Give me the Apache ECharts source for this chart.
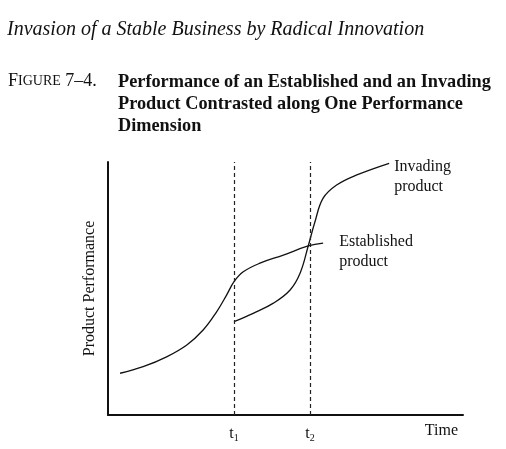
<!DOCTYPE html>
<html>
<head>
<meta charset="utf-8">
<title>Figure 7-4</title>
<script src="https://cdn.jsdelivr.net/npm/echarts@6/dist/echarts.min.js"></script>
<style>
  html, body { margin: 0; padding: 0; background: #fff; }
  #main { width: 506px; height: 449px; }
</style>
</head>
<body>
<div id="main"></div>
<script>
// 时间点 (x 轴上的 t1, t2)
var tPoints = [35.5, 56.9];
var tLabels = ["t{s|1}", "t{s|2}"];

// 原有产品曲线 [x, y]
var establishedX = [3.4, 9.9, 16.5, 22.2, 26.8, 30.6, 33.4, 35.5, 38.1, 42.8, 49.4, 56.4, 60.6];
var establishedY = [16.5, 19.1, 23.0, 27.7, 33.6, 40.8, 47.4, 52.7, 56.6, 60.0, 63.2, 66.8, 67.9];

// 入侵产品曲线 [x, y]
var invadingX = [35.5, 40.9, 46.6, 51.3, 54.1, 56.4, 58.3, 60.6, 64.4, 70.1, 79.2];
var invadingY = [36.9, 40.2, 44.2, 49.4, 56.0, 66.8, 76.4, 85.7, 90.9, 94.9, 99.5];

function pairs(xs, ys) {
  return xs.map(function (x, i) { return [x, ys[i]]; });
}

var serif = "Liberation Serif";
var myChart = echarts.init(document.getElementById("main"));

var option = {
  animation: false,
  title: [
    {
      text: "Invasion of a Stable Business by Radical Innovation",
      left: 7,
      top: 20,
      padding: 0,
      textStyle: { fontFamily: serif, fontStyle: "italic", fontWeight: "normal", fontSize: 20, color: "#111" }
    },
    {
      text: "F{sc|IGURE} 7–4.",
      left: 8,
      top: 72,
      padding: 0,
      textStyle: {
        fontFamily: serif, fontWeight: "normal", fontSize: 18, color: "#111",
        rich: { sc: { fontFamily: serif, fontSize: 14, color: "#111" } }
      }
    },
    {
      text: "Performance of an Established and an Invading\nProduct Contrasted along One Performance\nDimension",
      left: 118,
      top: 71,
      padding: 0,
      textStyle: { fontFamily: serif, fontWeight: "bold", fontSize: 18.3, lineHeight: 22, color: "#111" }
    }
  ],
  grid: {
    left: 108,
    top: 162,
    right: 43,
    bottom: 34
  },
  xAxis: {
    type: "value",
    min: 0,
    max: 100,
    name: "Time",
    nameLocation: "end",
    nameGap: -5,
    nameTextStyle: { fontFamily: serif, fontSize: 16, color: "#111", align: "right", verticalAlign: "top", padding: [8, 0, 0, 0] },
    axisLine: { show: true, lineStyle: { color: "#111", width: 2 } },
    axisTick: { show: false },
    splitLine: { show: false },
    axisLabel: {
      customValues: tPoints,
      margin: 9,
      color: "#111",
      fontFamily: serif,
      fontSize: 16,
      formatter: function (v) {
        return tLabels[tPoints.indexOf(v)];
      },
      rich: {
        s: { fontFamily: serif, fontSize: 10, color: "#111", padding: [9, 0, 0, 0] }
      }
    }
  },
  yAxis: {
    type: "value",
    min: 0,
    max: 100,
    name: "Product Performance",
    nameLocation: "middle",
    nameGap: 10,
    nameTextStyle: { fontFamily: serif, fontSize: 16, color: "#111" },
    axisLine: { show: true, lineStyle: { color: "#111", width: 2 } },
    axisTick: { show: false },
    axisLabel: { show: false },
    splitLine: { show: false }
  },
  series: [
    {
      name: "Established product",
      type: "line",
      smooth: 0.4,
      symbol: "none",
      data: pairs(establishedX, establishedY),
      lineStyle: { color: "#111", width: 1.3 },
      endLabel: {
        show: true,
        formatter: "Established\nproduct",
        fontFamily: serif,
        fontSize: 16,
        lineHeight: 20,
        color: "#111",
        offset: [8, 9]
      },
      // 虚线 t1, t2
      markLine: {
        silent: true,
        symbol: "none",
        label: { show: false },
        lineStyle: { color: "#222", type: [4, 3], width: 1.2 },
        data: tPoints.map(function (t) { return { xAxis: t }; })
      }
    },
    {
      name: "Invading product",
      type: "line",
      smooth: 0.4,
      symbol: "none",
      data: pairs(invadingX, invadingY),
      lineStyle: { color: "#111", width: 1.3 },
      endLabel: {
        show: true,
        formatter: "Invading\nproduct",
        fontFamily: serif,
        fontSize: 16,
        lineHeight: 20,
        color: "#111",
        offset: [-3, 14]
      }
    }
  ]
};

myChart.setOption(option);
</script>
</body>
</html>
